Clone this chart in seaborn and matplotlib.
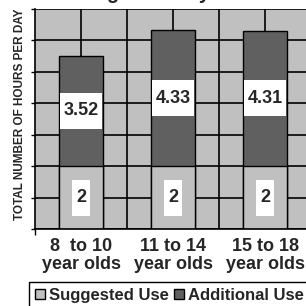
import numpy as np
import pandas as pd
import matplotlib.pyplot as plt
import seaborn as sns
from matplotlib.patches import Patch
from matplotlib.path import Path
from matplotlib import font_manager

# chart data
groups = ['8  to 10\nyear olds', '11 to 14\nyear olds', '15 to 18\nyear olds']
suggested = [2, 2, 2]
additional = [3.52, 4.33, 4.31]

light = '#c0c0c0'
dark = '#606060'

df = pd.DataFrame({'group': groups, 'suggested': suggested, 'additional': additional})
df['total'] = df['suggested'] + df['additional']

sns.set_style('white')
plt.rcParams['font.family'] = ['Liberation Sans', 'DejaVu Sans']

fig = plt.figure(figsize=(3.06, 3.06), dpi=100)
ax = fig.add_axes([35/306, 77/306, 276/306, 220/306])
ax.set_facecolor(light)

# stacked bars: total (dark) underneath, suggested (light) on top
sns.barplot(data=df, x='group', y='total', color=dark, width=0.47,
            edgecolor='black', linewidth=1, saturation=1, zorder=2, ax=ax)
sns.barplot(data=df, x='group', y='suggested', color=light, width=0.47,
            edgecolor='black', linewidth=1, saturation=1, zorder=2, ax=ax)

ax.set_xlim(-0.5, 2.5)
ax.set_ylim(0, 7)
ax.set_yticks(range(0, 8))
ax.set_yticklabels([])
ax.set_xticks(np.arange(-0.5, 3, 1), minor=True)
ax.set_xticks([0, 0.5, 1, 1.5, 2])
ax.set_xticklabels([groups[0], '', groups[1], '', groups[2]],
                   fontsize=13, fontweight='bold', linespacing=1.1)
ax.tick_params(axis='x', which='major', bottom=True, length=0, pad=6.5)
ax.tick_params(axis='x', which='minor', bottom=True, length=4, width=1,
               direction='out', color='black')
ax.tick_params(axis='y', left=True, length=3, width=1, direction='out', color='black')
ax.set_xlabel('')
ax.set_ylabel('')
ax.set_axisbelow(True)
ax.grid(True, axis='both', which='major', color='black', linewidth=1.2, zorder=0)
for side in ['top', 'right']:
    ax.spines[side].set_visible(False)
for side in ['left', 'bottom']:
    ax.spines[side].set_color('black')
    ax.spines[side].set_linewidth(1.2)


def label_box(x0, y0, width, height, mutation_size):
    px = 0.2 * mutation_size
    cy = y0 + height / 2
    h = 1.0 * mutation_size
    return Path([(x0 - px, cy - h), (x0 + width + px, cy - h),
                 (x0 + width + px, cy + h), (x0 - px, cy + h),
                 (x0 - px, cy - h)], closed=True)


for i, (s, a) in enumerate(zip(suggested, additional)):
    ax.text(i, s / 2, f'{s}', ha='center', va='center', fontsize=13, zorder=4,
            fontweight='bold', bbox=dict(boxstyle=label_box, fc='white', ec='none'))
    ax.text(i, s + a / 2, f'{a:.2f}', ha='center', va='center', fontsize=13, zorder=4,
            fontweight='bold', bbox=dict(boxstyle=label_box, fc='white', ec='none'))

installed = {f.name for f in font_manager.fontManager.ttflist}
if 'Liberation Sans Narrow' in installed:
    ylab_family, ylab_size = ['Liberation Sans Narrow', 'Liberation Sans'], 10
else:
    ylab_family, ylab_size = ['Liberation Sans', 'DejaVu Sans'], 8.5
fig.text(20/306, 1 - 114/306, 'TOTAL NUMBER OF HOURS PER DAY', rotation=90,
         ha='center', va='center', fontsize=ylab_size, fontweight='bold',
         family=ylab_family)
fig.text(140/306, 1 + 1/306, 'Usage Per Day', ha='center', va='baseline',
         fontsize=14.4, fontweight='bold')

handles = [Patch(facecolor=light, edgecolor='black', linewidth=1),
           Patch(facecolor=dark, edgecolor='black', linewidth=1)]
leg = fig.legend(handles, ['Suggested Use', 'Additional Use'], loc='upper left',
                 bbox_to_anchor=(29/306, 1 - 282/306), ncol=2, frameon=True,
                 fancybox=False, edgecolor='black', framealpha=1,
                 prop={'size': 12, 'weight': 'bold'}, handlelength=0.6,
                 handleheight=0.6, handletextpad=0.25, columnspacing=0.3,
                 borderpad=0.35, borderaxespad=0)
leg.get_frame().set_linewidth(1)

fig.savefig('out.png', dpi=100)
